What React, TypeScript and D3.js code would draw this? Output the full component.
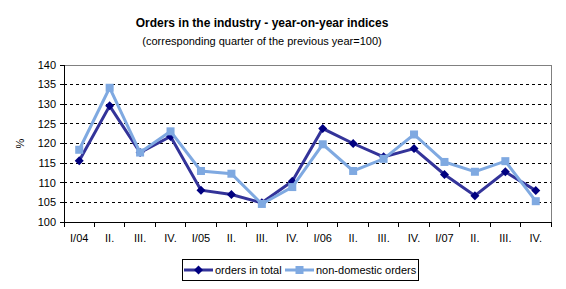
import * as d3 from "d3";

const categories = ["I/04", "II.", "III.", "IV.", "I/05", "II.", "III.", "IV.", "I/06", "II.", "III.", "IV.", "I/07", "II.", "III.", "IV."];
const ordersTotal = [115.6, 129.6, 117.7, 121.8, 108.1, 107.0, 104.9, 110.4, 123.8, 120.0, 116.6, 118.7, 112.1, 106.7, 112.8, 108.0];
const nonDomestic = [118.4, 134.2, 117.7, 123.1, 113.0, 112.3, 104.6, 108.9, 119.8, 113.0, 116.1, 122.3, 115.3, 112.8, 115.5, 105.3];
const yTicks = [100, 105, 110, 115, 120, 125, 130, 135, 140];

const W = 566;
const H = 289;
const margin = { top: 65, right: 15, bottom: 67, left: 64 };
const darkLine = "#333399";
const darkMark = "#000080";
const lightLine = "#7fa9e1";
const font = "'Liberation Sans', Arial, sans-serif";

export default function App() {
  const x = d3
    .scaleBand<number>()
    .domain(categories.map((_, i) => i))
    .range([margin.left, W - margin.right]);
  const y = d3
    .scaleLinear()
    .domain([100, 140])
    .range([H - margin.bottom, margin.top]);

  const cx = (i: number) => (x(i) ?? 0) + x.bandwidth() / 2;
  const line = d3
    .line<number>()
    .x((_, i) => cx(i))
    .y((d) => y(d));

  const bottom = y(100);
  const top = y(140);
  const left = margin.left;
  const right = W - margin.right;

  // diamond marker
  const diamond = (px: number, py: number) =>
    `M${px},${py - 4.5}L${px + 4.5},${py}L${px},${py + 4.5}L${px - 4.5},${py}Z`;

  return (
    <svg
      width={W}
      height={H}
      style={{ position: "absolute", left: 0, top: 0, background: "#fff" }}
      fontFamily={font}
    >
      <text x={262} y={27} textAnchor="middle" fontSize={12} fontWeight="bold" fill="#000">
        Orders in the industry - year-on-year indices
      </text>
      <text x={262} y={45} textAnchor="middle" fontSize={11} fill="#000">
        (corresponding quarter of the previous year=100)
      </text>

      {/* grid */}
      {yTicks
        .filter((t) => t > 100 && t < 140)
        .map((t) => (
          <line
            key={t}
            x1={left}
            x2={right}
            y1={y(t)}
            y2={y(t)}
            stroke="#000"
            strokeWidth={1}
            strokeDasharray="3,3"
            shapeRendering="crispEdges"
          />
        ))}
      <line x1={left} x2={right} y1={top} y2={top} stroke="#808080" shapeRendering="crispEdges" />
      <line x1={right} x2={right} y1={top} y2={bottom} stroke="#808080" shapeRendering="crispEdges" />

      {/* axes */}
      <line x1={left} x2={left} y1={top} y2={bottom} stroke="#000" shapeRendering="crispEdges" />
      <line x1={left} x2={right} y1={bottom} y2={bottom} stroke="#000" shapeRendering="crispEdges" />
      {yTicks.map((t) => (
        <g key={t}>
          <line x1={left - 4} x2={left} y1={y(t)} y2={y(t)} stroke="#000" shapeRendering="crispEdges" />
          <text x={left - 8} y={y(t)} dy="0.35em" textAnchor="end" fontSize={11} fill="#000">
            {t}
          </text>
        </g>
      ))}
      {d3.range(categories.length + 1).map((i) => {
        const px = i < categories.length ? x(i) ?? 0 : right;
        return (
          <line key={i} x1={px} x2={px} y1={bottom} y2={bottom + 5} stroke="#000" shapeRendering="crispEdges" />
        );
      })}
      {categories.map((c, i) => (
        <text key={i} x={cx(i)} y={242} textAnchor="middle" fontSize={11} fill="#000">
          {c}
        </text>
      ))}
      <text
        transform={`translate(24,${(top + bottom) / 2}) rotate(-90)`}
        textAnchor="middle"
        fontSize={11}
        fill="#000"
      >
        %
      </text>

      {/* series */}
      <path d={line(ordersTotal) ?? ""} fill="none" stroke={darkLine} strokeWidth={3} />
      {ordersTotal.map((v, i) => (
        <path key={i} d={diamond(cx(i), y(v))} fill={darkMark} />
      ))}
      <path d={line(nonDomestic) ?? ""} fill="none" stroke={lightLine} strokeWidth={3} />
      {nonDomestic.map((v, i) => (
        <rect key={i} x={cx(i) - 4} y={y(v) - 4} width={8} height={8} fill={lightLine} />
      ))}

      {/* legend */}
      <rect x={182} y={259.5} width={236} height={21} fill="#fff" stroke="#000" shapeRendering="crispEdges" />
      <line x1={184} x2={213} y1={270} y2={270} stroke={darkLine} strokeWidth={3} />
      <path d={diamond(198.5, 270)} fill={darkMark} />
      <text x={215} y={270} dy="0.35em" fontSize={11} fill="#000">
        orders in total
      </text>
      <line x1={285} x2={314} y1={270} y2={270} stroke={lightLine} strokeWidth={3} />
      <rect x={295.5} y={266} width={8} height={8} fill={lightLine} />
      <text x={316} y={270} dy="0.35em" fontSize={11} fill="#000">
        non-domestic orders
      </text>
    </svg>
  );
}
